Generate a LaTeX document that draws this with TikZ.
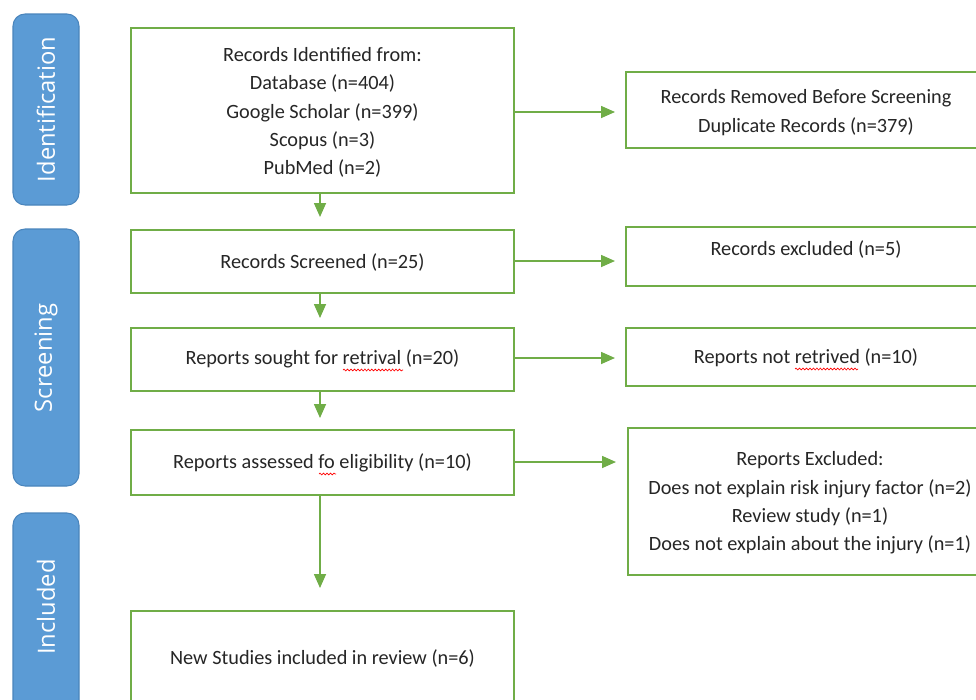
\documentclass[tikz,border=0pt]{standalone}
\usepackage{fontspec}
\setmainfont{Carlito}
\newfontfamily\barfont{Open Sans}
\usetikzlibrary{arrows.meta,decorations.pathmorphing}
\definecolor{pgreen}{HTML}{70AD47}
\definecolor{pblue}{HTML}{5B9BD5}
\definecolor{pbluedark}{HTML}{4A85BC}
\definecolor{ptext}{HTML}{262626}
\begin{document}
\begin{tikzpicture}[x=0.75pt,y=-0.75pt,
  flowbox/.style={draw=pgreen,line width=1.2pt,fill=white},
  boxtext/.style={text=ptext,align=center,font=\fontsize{15.2}{21.2}\selectfont,inner sep=0pt},
  phase/.style={draw=pbluedark,line width=0.8pt,fill=pblue,rounded corners=9pt},
  phasetext/.style={text=white,rotate=90,font=\barfont\fontsize{17.8}{20}\selectfont,inner sep=0pt},
  flowarrow/.style={draw=pgreen,line width=1.2pt,-{Triangle[length=10.5pt,width=9pt]}},
  spell/.style={draw=red,line width=0.5pt,decorate,decoration={snake,amplitude=0.7pt,segment length=2.6pt}}]
\clip (0,0) rectangle (976,700);
\fill[white] (0,0) rectangle (976,700);
% phase bars
\draw[phase] (13,14) rectangle (79,205);
\node[phasetext] (tid) at (46,109.5) {Identification};
\draw[phase] (13,229) rectangle (79,486);
\node[phasetext] (tsc) at (46,358) {Screening};
\draw[phase] (13,513) rectangle (79,720);
\node[phasetext] (tin) at (46,607) {Included};
% main boxes
\draw[flowbox] (131,28) rectangle (514,193);
\coordinate (b1n) at (320,28); \coordinate (b1s) at (320,193); \coordinate (b1e) at (514,112);
\node[boxtext] (t1) at (322.5,112.5) {Records Identified from:\\Database (n=404)\\Google Scholar (n=399)\\Scopus (n=3)\\PubMed (n=2)};
\draw[flowbox] (131,230) rectangle (514,293);
\coordinate (b2n) at (320,230); \coordinate (b2s) at (320,293); \coordinate (b2e) at (514,261);
\node[boxtext] (t2) at (322.5,262) {Records Screened (n=25)};
\draw[flowbox] (131,328) rectangle (514,391);
\coordinate (b3n) at (320,328); \coordinate (b3s) at (320,391); \coordinate (b3e) at (514,358);
\node[boxtext] (t3) at (322.5,359) {Reports sought for retrival (n=20)};
\draw[flowbox] (131,430) rectangle (514,495);
\coordinate (b4n) at (320,430); \coordinate (b4s) at (320,495); \coordinate (b4e) at (514,462);
\node[boxtext] (t4) at (322.5,463) {Reports assessed fo eligibility (n=10)};
\draw[flowbox] (131,611) rectangle (514,720);
\coordinate (b5n) at (320,611);
\node[boxtext] (t5) at (322.5,658) {New Studies included in review (n=6)};
% right boxes
\draw[flowbox] (626,72) rectangle (986,148);
\coordinate (r1w) at (626,112);
\node[boxtext] (tr1) at (806,112.5) {Records Removed Before Screening\\Duplicate Records (n=379)};
\draw[flowbox] (626,227) rectangle (986,286);
\coordinate (r2w) at (626,261);
\node[boxtext] (tr2) at (806,249) {Records excluded (n=5)};
\draw[flowbox] (626,328) rectangle (986,386);
\coordinate (r3w) at (626,358);
\node[boxtext] (tr3) at (806,358) {Reports not retrived (n=10)};
\draw[flowbox] (628,428) rectangle (986,575);
\coordinate (r4w) at (628,462);
\node[boxtext] (tr4) at (810,503) {Reports Excluded:\\Does not explain risk injury factor (n=2)\\Review study (n=1)\\Does not explain about the injury (n=1)};
% connectors
\coordinate (a1) at (320,217);
\coordinate (a2) at (320,318);
\coordinate (a3) at (320,418);
\coordinate (a4) at (320,588);
\draw[flowarrow] (b1s) -- (a1);
\draw[flowarrow] (b2s) -- (a2);
\draw[flowarrow] (b3s) -- (a3);
\draw[flowarrow] (b4s) -- (a4);
\coordinate (h1) at (615,112);
\coordinate (h2) at (615,261);
\coordinate (h3) at (615,358);
\coordinate (h4) at (616,462);
\draw[flowarrow] (b1e) -- (h1);
\draw[flowarrow] (b2e) -- (h2);
\draw[flowarrow] (b3e) -- (h3);
\draw[flowarrow] (b4e) -- (h4);
% spell-check marks
\draw[spell] (343,370) -- (403,370);
\draw[spell] (795,369) -- (858,369);
\draw[spell] (319,474) -- (336,474);
\end{tikzpicture}
\end{document}
